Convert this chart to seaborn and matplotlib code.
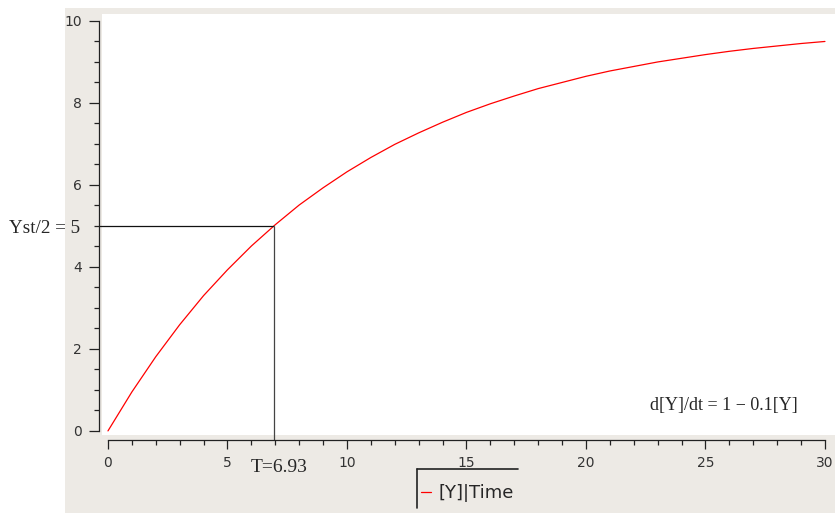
import numpy as np
import pandas as pd
import seaborn as sns
import matplotlib.pyplot as plt
from matplotlib.patches import Rectangle
from matplotlib.lines import Line2D
from matplotlib.ticker import MultipleLocator

# values, one per time unit
time = list(range(0, 31))
y_values = [0.00, 0.95, 1.81, 2.59, 3.30, 3.93, 4.51, 5.03, 5.51, 5.93,
            6.32, 6.67, 6.99, 7.27, 7.53, 7.77, 7.98, 8.17, 8.35, 8.50,
            8.65, 8.78, 8.89, 9.00, 9.09, 9.18, 9.26, 9.33, 9.39, 9.45, 9.50]
t_half = 6.93
y_half = 5
x_ticks = [0, 5, 10, 15, 20, 25, 30]
y_ticks = [0, 2, 4, 6, 8, 10]
legend_label = '[Y]|Time'
equation = 'd[Y]/dt = 1 \u2212 0.1[Y]'

df = pd.DataFrame({'Time': time, 'Y': y_values})

sns.set_theme(style='ticks')
plt.rcParams['font.family'] = ['DejaVu Sans']

W, H = 835, 513
fig = plt.figure(figsize=(W / 100, H / 100), dpi=100, facecolor='white')
fig.patches.append(Rectangle((65 / W, 0), 1 - 65 / W, 1 - 8 / H, transform=fig.transFigure,
                             facecolor='#edeae5', edgecolor='none', zorder=-10))

ax = fig.add_axes([102 / W, (H - 435) / H, (W - 102) / W, (435 - 14) / H])
ax.set_facecolor('white')

sns.lineplot(data=df, x='Time', y='Y', color='red', linewidth=0.9, ax=ax, legend=False)

ax.set_xlim(-0.25, 30.42)
ax.set_ylim(-0.1, 10.17)
ax.set_xlabel('')
ax.set_ylabel('')

ax.set_xticks(x_ticks)
ax.set_yticks(y_ticks)
ax.xaxis.set_minor_locator(MultipleLocator(1))
ax.yaxis.set_minor_locator(MultipleLocator(0.5))

for s in ['top', 'right']:
    ax.spines[s].set_visible(False)
ax.spines['left'].set_position(('outward', 2.2))
ax.spines['bottom'].set_position(('outward', 3.6))
ax.spines['left'].set_bounds(0, 10)
ax.spines['bottom'].set_bounds(0, 30)
for s in ['left', 'bottom']:
    ax.spines[s].set_linewidth(0.9)
    ax.spines[s].set_color('#222222')

ax.tick_params(axis='y', which='major', length=7.2, width=0.9, color='#222222',
               pad=5.0, labelsize=10, labelcolor='#333333')
ax.tick_params(axis='y', which='minor', length=3.6, width=0.9, color='#222222')
ax.tick_params(axis='x', which='major', length=6.5, width=0.9, color='#222222',
               pad=5.0, labelsize=10, labelcolor='#333333')
ax.tick_params(axis='x', which='minor', length=3.4, width=0.9, color='#222222')

# half-saturation guide lines
ax.hlines(y_half, -0.38, t_half, color='#111111', linewidth=0.9, clip_on=False)
ax.vlines(t_half, -0.22, y_half, color='#444444', linewidth=0.9, clip_on=False)

serif = ['Liberation Serif', 'DejaVu Serif']
ax.text(-1.17, 4.93, 'Yst/2 = 5', family=serif, fontsize=13.8, ha='right', va='center',
        clip_on=False)
ax.text(7.17, -0.9, 'T=%.2f' % t_half, family=serif, fontsize=14, ha='center', va='center',
        clip_on=False)
ax.text(25.77, 0.63, equation, family=serif, fontsize=13, ha='center', va='center')

handle = Line2D([], [], color='red', linewidth=0.9)
fig.legend([handle], [legend_label], loc='center left', bbox_to_anchor=(417 / W, 1 - 493 / H),
           frameon=False, fontsize=13, handlelength=0.6, handletextpad=0.4,
           borderpad=0.2, borderaxespad=0)
fig.add_artist(Line2D([417 / W, 518 / W], [1 - 469 / H, 1 - 469 / H], transform=fig.transFigure,
                      color='#222222', linewidth=1.2))
fig.add_artist(Line2D([417 / W, 417 / W], [1 - 469 / H, 1 - 508 / H], transform=fig.transFigure,
                      color='#222222', linewidth=1.2))

fig.savefig('out.png', dpi=100)
